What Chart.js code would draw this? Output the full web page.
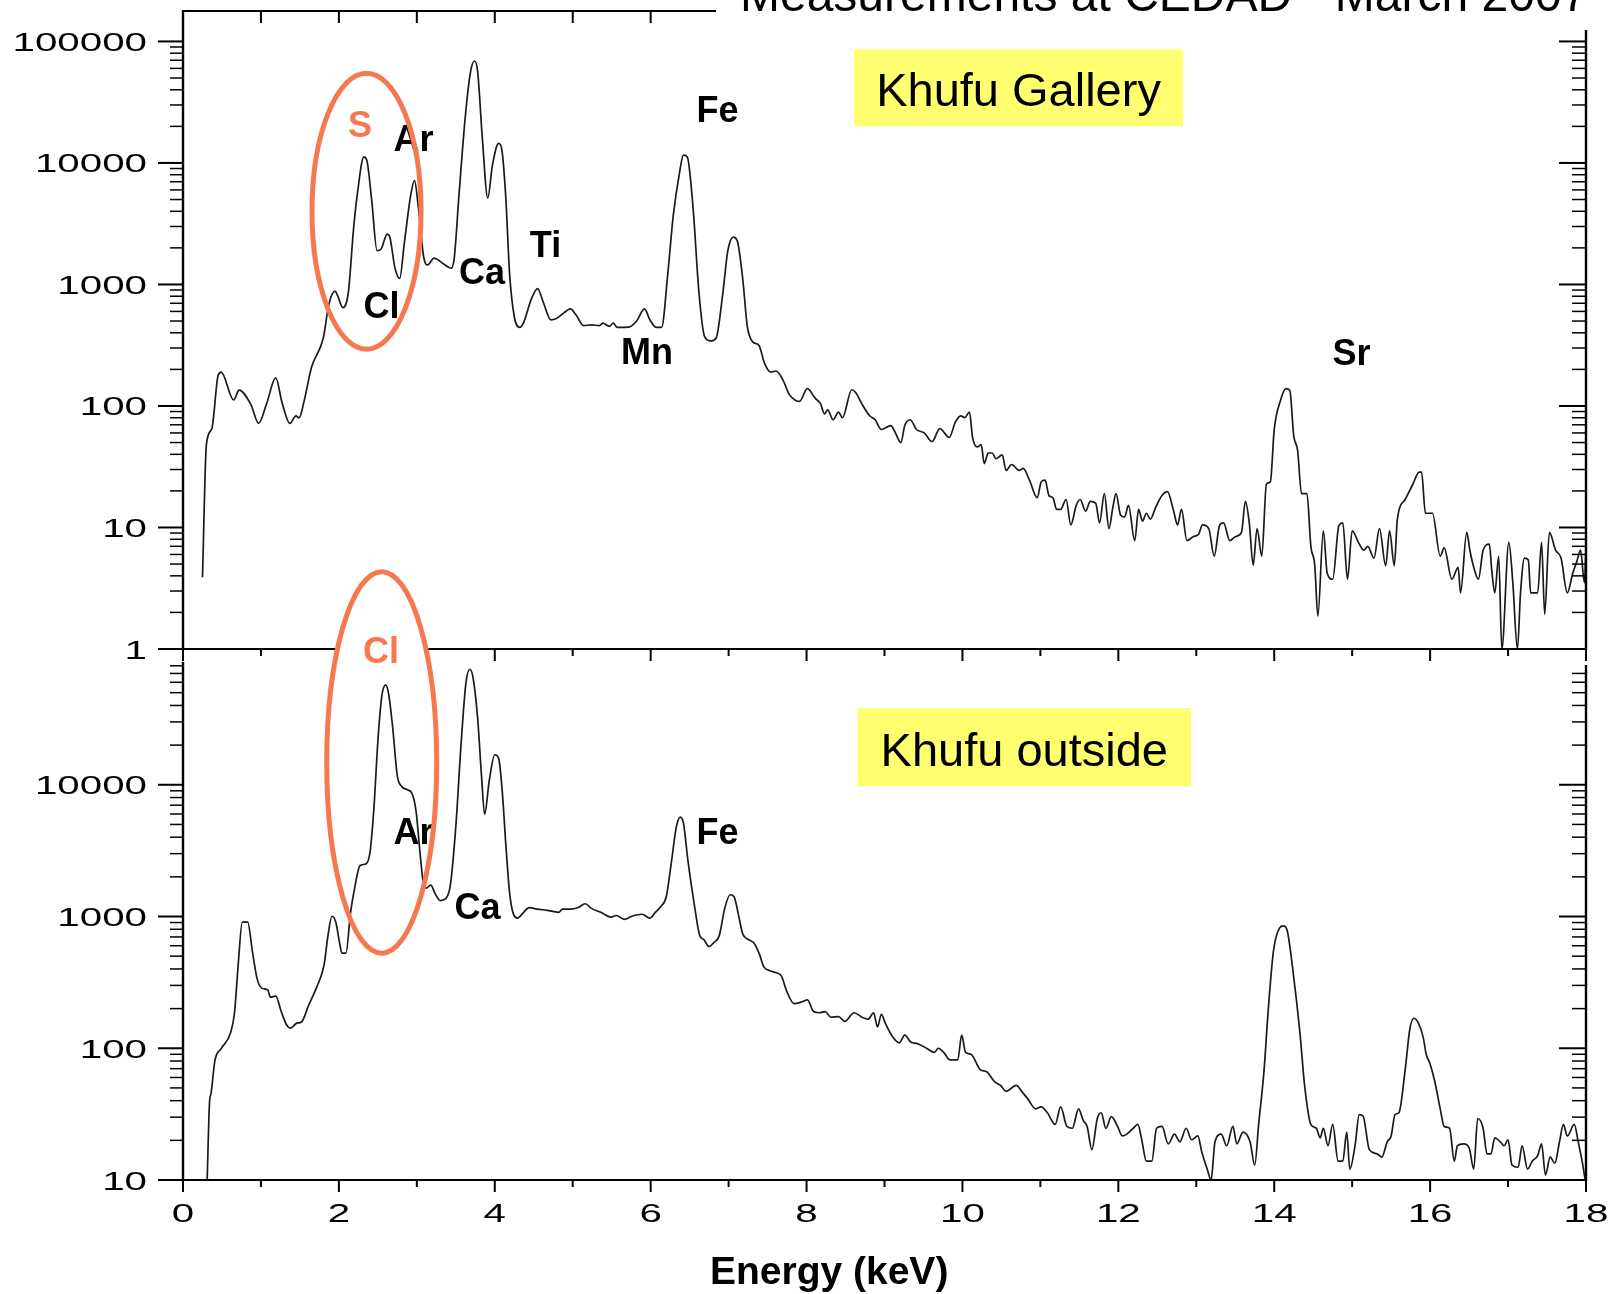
<!DOCTYPE html>
<html>
<head>
<meta charset="utf-8">
<title>Khufu XRF spectra</title>
<script src="https://cdn.jsdelivr.net/npm/chart.js@4.4.1/dist/chart.umd.min.js"></script>
<style>
  html, body { margin: 0; padding: 0; background: #fff; }
  #wrap { position: relative; width: 1615px; height: 1294px; overflow: hidden; background: #fff; }
  #wrap canvas { position: absolute; left: 0; top: 0; }
</style>
</head>
<body>
<div id="wrap">
  <canvas id="gallery" width="1615" height="1294"></canvas>
  <canvas id="outside" width="1615" height="1294"></canvas>
</div>
<script>
// ---- Spectrum taken inside the Khufu gallery (energy in keV, counts per channel) ----
const galleryEnergy = [
  0.25, 0.30, 0.37, 0.45, 0.49, 0.65, 0.72, 0.87, 0.97, 1.07, 1.19, 1.27, 1.37, 1.45, 1.49, 1.55,
  1.65, 1.80, 1.87, 1.95, 1.98, 2.05, 2.12, 2.19, 2.24, 2.32, 2.36, 2.42, 2.49, 2.54, 2.62, 2.65,
  2.72, 2.78, 2.84, 2.92, 2.97, 3.02, 3.09, 3.14, 3.22, 3.34, 3.44, 3.48, 3.54, 3.62, 3.69, 3.74,
  3.78, 3.84, 3.91, 3.97, 4.05, 4.09, 4.14, 4.19, 4.25, 4.32, 4.37, 4.47, 4.55, 4.62, 4.72, 4.79,
  4.89, 4.97, 5.04, 5.14, 5.24, 5.34, 5.39, 5.47, 5.52, 5.57, 5.72, 5.82, 5.92, 5.99, 6.07, 6.14,
  6.22, 6.29, 6.37, 6.42, 6.47, 6.54, 6.62, 6.69, 6.77, 6.84, 6.92, 6.99, 7.06, 7.11, 7.18, 7.24,
  7.31, 7.39, 7.46, 7.54, 7.61, 7.69, 7.78, 7.86, 7.91, 8.01, 8.11, 8.18, 8.23, 8.27, 8.34, 8.41,
  8.46, 8.58, 8.63, 8.71, 8.81, 8.88, 8.96, 9.03, 9.08, 9.13, 9.21, 9.26, 9.33, 9.41, 9.51, 9.61,
  9.71, 9.83, 9.91, 9.98, 10.03, 10.09, 10.13, 10.19, 10.24, 10.28, 10.33, 10.38, 10.43, 10.51, 10.56, 10.63,
  10.73, 10.78, 10.86, 10.96, 11.01, 11.06, 11.11, 11.16, 11.21, 11.26, 11.33, 11.39, 11.46, 11.51, 11.58, 11.64,
  11.71, 11.76, 11.82, 11.88, 11.93, 11.97, 12.03, 12.08, 12.13, 12.21, 12.26, 12.31, 12.36, 12.41, 12.48, 12.56,
  12.63, 12.71, 12.76, 12.81, 12.88, 12.96, 13.03, 13.08, 13.16, 13.23, 13.30, 13.35, 13.43, 13.50, 13.58, 13.63,
  13.68, 13.73, 13.78, 13.84, 13.90, 13.95, 14.00, 14.08, 14.15, 14.20, 14.25, 14.30, 14.35, 14.42, 14.47, 14.52,
  14.56, 14.63, 14.68, 14.75, 14.83, 14.88, 14.94, 15.00, 15.08, 15.15, 15.20, 15.28, 15.35, 15.43, 15.48, 15.54,
  15.58, 15.68, 15.78, 15.86, 15.89, 15.94, 16.03, 16.13, 16.18, 16.28, 16.36, 16.39, 16.47, 16.51, 16.56, 16.62,
  16.68, 16.76, 16.79, 16.83, 16.88, 16.92, 17.01, 17.06, 17.12, 17.16, 17.21, 17.26, 17.29, 17.38, 17.43, 17.47,
  17.53, 17.61, 17.68, 17.76, 17.83, 17.88, 17.93, 17.98, 18.00
];
const galleryCounts = [
  3.9, 48, 65, 178, 190, 112, 135, 103, 72, 103, 170, 107, 72, 83, 80, 107,
  209, 363, 680, 880, 820, 645, 850, 2960, 5750, 11200, 10400, 5000, 1900, 1950, 2600, 2500,
  1360, 1120, 2200, 5350, 7200, 4300, 1650, 1450, 1650, 1480, 1360, 1650, 5350, 23400, 56600, 69000,
  56600, 16100, 5150, 9600, 14500, 12900, 5350, 1230, 545, 444, 486, 760, 925, 720, 512, 525,
  586, 630, 565, 458, 465, 458, 480, 452, 480, 444, 446, 500, 630, 512, 444, 444,
  1230, 3700, 8300, 11600, 11200, 4600, 850, 376, 343, 363, 785, 1900, 2450, 2300, 1130, 452,
  337, 315, 225, 190, 194, 167, 124, 111, 109, 139, 116, 104, 86, 93, 77, 89,
  80, 136, 129, 104, 83, 77, 64, 67, 69, 62, 50, 69, 77, 64, 60, 51,
  65, 55, 74, 83, 80, 89, 55, 46, 48, 33.5, 41, 41, 36.8, 39.6, 29.5, 33,
  29.5, 30.6, 24.5, 17.6, 23.7, 24.5, 18.3, 17.6, 14.1, 14.1, 17, 10.5, 15.2, 17, 13.6, 16.4,
  15.8, 10.9, 19, 9.8, 14.7, 19, 12.6, 12.2, 15.2, 7.8, 14.1, 11.3, 13.1, 11.7, 14.7, 18.3,
  19.7, 13.6, 10.5, 14.1, 7.8, 8.4, 8.8, 10.5, 9.8, 5.8, 10.5, 10.9, 7.8, 8.4, 9.1, 16.4,
  10.9, 4.9, 9.8, 5.8, 22.8, 23.7, 64, 111, 139, 134, 57, 43, 19, 19, 7, 4.9,
  1.86, 9.4, 4.2, 3.75, 10.4, 10.9, 3.75, 9.4, 7.55, 6.5, 7.0, 5.6, 9.8, 4.85, 9.4, 4.85,
  11.7, 17, 22.8, 28.5, 28.5, 13.1, 13.1, 5.8, 6.8, 3.75, 4.7, 2.9, 9.1, 6.5, 4.7, 3.75,
  6.5, 7.3, 4.5, 2.9, 5.8, 1, 7.55, 3.6, 1, 2.9, 5.6, 5.4, 2.9, 2.9, 7.55, 1.93,
  9.1, 6.5, 5.6, 2.9, 4.2, 5.2, 6.5, 3.5, 7
];

// ---- Spectrum taken outside the pyramid ----
const outsideEnergy = [
  0.31, 0.34, 0.36, 0.41, 0.49, 0.61, 0.66, 0.71, 0.76, 0.83, 0.89, 0.95, 1.01, 1.09, 1.12, 1.19,
  1.26, 1.33, 1.38, 1.46, 1.52, 1.61, 1.71, 1.81, 1.86, 1.91, 1.96, 2.01, 2.04, 2.09, 2.15, 2.20,
  2.27, 2.35, 2.40, 2.45, 2.50, 2.55, 2.60, 2.64, 2.69, 2.75, 2.80, 2.88, 2.94, 2.99, 3.04, 3.08,
  3.12, 3.18, 3.23, 3.30, 3.37, 3.43, 3.50, 3.57, 3.63, 3.68, 3.72, 3.78, 3.83, 3.87, 3.93, 4.00,
  4.05, 4.10, 4.14, 4.19, 4.24, 4.29, 4.37, 4.44, 4.54, 4.67, 4.82, 4.87, 4.97, 5.07, 5.16, 5.24,
  5.36, 5.49, 5.56, 5.66, 5.76, 5.89, 5.99, 6.06, 6.13, 6.20, 6.26, 6.33, 6.38, 6.42, 6.48, 6.56,
  6.63, 6.68, 6.75, 6.81, 6.88, 6.95, 7.02, 7.07, 7.13, 7.18, 7.25, 7.33, 7.40, 7.45, 7.53, 7.60,
  7.68, 7.74, 7.84, 7.94, 8.01, 8.09, 8.16, 8.24, 8.31, 8.41, 8.49, 8.61, 8.71, 8.79, 8.86, 8.91,
  8.96, 9.01, 9.09, 9.19, 9.26, 9.34, 9.41, 9.54, 9.64, 9.69, 9.76, 9.84, 9.94, 9.99, 10.04, 10.11,
  10.23, 10.31, 10.41, 10.49, 10.56, 10.69, 10.76, 10.84, 10.94, 11.01, 11.09, 11.19, 11.26, 11.34, 11.41, 11.49,
  11.55, 11.60, 11.66, 11.73, 11.78, 11.84, 11.91, 11.99, 12.05, 12.11, 12.19, 12.25, 12.30, 12.36, 12.43, 12.49,
  12.56, 12.64, 12.72, 12.79, 12.87, 12.94, 13.02, 13.07, 13.14, 13.19, 13.24, 13.32, 13.39, 13.47, 13.52, 13.60,
  13.69, 13.75, 13.80, 13.87, 13.92, 13.99, 14.07, 14.12, 14.17, 14.24, 14.33, 14.39, 14.47, 14.54, 14.59, 14.63,
  14.69, 14.75, 14.82, 14.88, 14.93, 14.97, 15.04, 15.09, 15.14, 15.22, 15.32, 15.38, 15.45, 15.50, 15.55, 15.60,
  15.68, 15.74, 15.79, 15.85, 15.91, 15.95, 16.00, 16.06, 16.13, 16.18, 16.25, 16.31, 16.35, 16.43, 16.50, 16.56,
  16.61, 16.68, 16.73, 16.78, 16.83, 16.90, 16.95, 17.00, 17.05, 17.13, 17.18, 17.25, 17.31, 17.38, 17.43, 17.48,
  17.54, 17.60, 17.66, 17.71, 17.76, 17.85, 17.90, 17.95, 17.99
];
const outsideCounts = [
  10, 38.5, 45.6, 81, 99.5, 131, 184, 445, 908, 908, 546, 339, 286, 276, 244, 249,
  190, 150, 142, 155, 158, 211, 286, 430, 716, 1005, 908, 625, 527, 527, 1076, 1620,
  2430, 2515, 3090, 6750, 21400, 46900, 57400, 48400, 27200, 11620, 9800, 9160, 8550, 6300, 3090, 1855,
  1640, 1733, 1513, 1321, 1365, 1733, 4810, 21400, 59400, 75300, 65700, 32200, 11620, 5970, 10850, 16900,
  15800, 8280, 3660, 1513, 1040, 972, 1076, 1170, 1138, 1115, 1076, 1138, 1138, 1170, 1250, 1153,
  1076, 990, 1018, 952, 1005, 1040, 972, 1076, 1190, 1413, 2430, 4810, 5690, 5140, 2600, 1233,
  716, 670, 592, 634, 716, 1153, 1463, 1413, 1005, 741, 670, 625, 509, 416, 388, 376,
  351, 276, 218, 225, 233, 190, 186, 190, 172, 174, 160, 186, 172, 166, 186, 145,
  181, 155, 126, 110, 126, 111, 109, 100, 93, 100, 93, 81.5, 81.5, 126, 93, 90,
  68.6, 66.3, 55.9, 52.2, 47.1, 52.2, 47.1, 41.1, 34.7, 35.9, 32.4, 26.4, 35.9, 25.5, 24.7, 34.7,
  28.3, 25.5, 17, 29.3, 32.4, 24.7, 30.3, 25.5, 21.6, 22.3, 24.7, 26.4, 20.2, 13.9, 13.9, 24.7,
  25.5, 18.8, 22.3, 19.5, 24.7, 20.2, 21.6, 16.4, 12.1, 10, 19.5, 22.3, 18.2, 25.5, 18.8, 23.1,
  19.5, 13, 26.4, 68.6, 184, 546, 820, 849, 767, 389, 131, 52, 26.4, 24.7, 20.9, 24.7,
  18.2, 26.4, 13.9, 13.9, 23.1, 12.1, 18.8, 31.4, 30.6, 17, 15.8, 14.9, 19.5, 21.6, 31.4, 32.4,
  68.6, 140, 169, 155, 122, 90, 75.9, 55.9, 34.7, 25.5, 24.7, 13.9, 18.2, 18.8, 17.6, 12.1,
  29.3, 24.7, 15.8, 15.8, 20.9, 19.5, 18.2, 20.2, 13, 12.5, 18.2, 12.1, 13.9, 15.3, 18.8, 10.9,
  14.9, 13.4, 19.5, 26.4, 21.6, 26.4, 19.5, 13.9, 10
];

// ---- Axis ranges and labelled ticks ----
const energyRange = [0, 18];
const energyTickLabels = [0, 2, 4, 6, 8, 10, 12, 14, 16, 18];
const galleryCountRange = [1, 178000];
const galleryCountTicks = [1, 10, 100, 1000, 10000, 100000];
const outsideCountRange = [10, 84000];
const outsideCountTicks = [10, 100, 1000, 10000];

// ---- Element labels, placed in (keV, counts) space; counts give the text baseline ----
const galleryPeakLabels = [
  { text: 'S',  keV: 2.271, counts: 16270, accent: true },
  { text: 'Ar', keV: 2.957, counts: 12485 },
  { text: 'Cl', keV: 2.548, counts: 527 },
  { text: 'Ca', keV: 3.836, counts: 1006 },
  { text: 'Ti', keV: 4.651, counts: 1684 },
  { text: 'Mn', keV: 5.953, counts: 222 },
  { text: 'Fe', keV: 6.858, counts: 21750 },
  { text: 'Sr', keV: 14.992, counts: 216 }
];
const outsidePeakLabels = [
  { text: 'Cl', keV: 2.541, counts: 84000, accent: true },
  { text: 'Ar', keV: 2.957, counts: 3555 },
  { text: 'Ca', keV: 3.778, counts: 959 },
  { text: 'Fe', keV: 6.858, counts: 3555 }
];

const ACCENT = '#F5784F';
const SANS = '"Liberation Sans", Arial, Helvetica, sans-serif';

// Writes text squeezed or widened horizontally (the scale labels use a wide face).
function stretchedText(ctx, text, x, y, align, sx) {
  ctx.save();
  ctx.translate(x, y);
  ctx.scale(sx, 1);
  ctx.textAlign = align;
  ctx.textBaseline = 'alphabetic';
  ctx.fillText(text, 0, 0);
  ctx.restore();
}

// Axis frame: spines, log ticks on both sides, keV ticks, and scale labels.
const framePlugin = {
  id: 'frame',
  afterDatasetsDraw(chart, args, o) {
    const { ctx, chartArea: a, scales: { x, y } } = chart;
    const seg = (x1, y1, x2, y2, w) => {
      ctx.lineWidth = w;
      ctx.beginPath();
      ctx.moveTo(x1, y1);
      ctx.lineTo(x2, y2);
      ctx.stroke();
    };
    ctx.save();
    ctx.strokeStyle = '#000';
    ctx.fillStyle = '#000';
    ctx.lineCap = 'butt';

    // spines
    seg(a.left, a.top - 1, a.left, a.bottom + 1, 2.4);
    seg(a.right, a.top + o.rightInset, a.right, a.bottom + 1, 2.4);
    seg(a.left - o.leftMajor, a.bottom, a.right + 1, a.bottom, 2.2);
    if (o.topBorderTo != null) {
      const xe = x.getPixelForValue(o.topBorderTo);
      seg(a.left - 1, a.top, xe, a.top, 2.2);
      for (let k = 1; k <= Math.floor(o.topBorderTo); k++) {
        const px = x.getPixelForValue(k);
        seg(px, a.top, px, a.top + 12, 2);
      }
    }

    // logarithmic ticks, outward on the left spine, inward on the right one
    const lo = Math.floor(Math.log10(y.min));
    const hi = Math.ceil(Math.log10(y.max));
    for (let d = lo; d <= hi; d++) {
      for (let m = 1; m < 10; m++) {
        const v = m * Math.pow(10, d);
        if (v < y.min * 0.999 || v > y.max) continue;
        const py = y.getPixelForValue(v);
        const major = m === 1;
        const w = major ? 2 : 1.5;
        seg(a.left - (major ? o.leftMajor : o.leftMinor), py, a.left, py, w);
        if (py >= a.top + o.rightInset + 1) {
          seg(a.right - (major ? o.rightMajor : o.rightMinor), py, a.right, py, w);
        }
      }
    }

    // energy ticks, pointing down from the lower spine
    for (let k = Math.ceil(x.min); k <= x.max; k++) {
      const px = x.getPixelForValue(k);
      seg(px, a.bottom, px, a.bottom + (k % 2 === 0 ? 12 : 7), 2);
    }

    // scale labels
    ctx.font = o.labelFont;
    for (const v of o.countLabels) {
      const py = y.getPixelForValue(v);
      stretchedText(ctx, String(v), o.countLabelRight, py + 9.5, 'right', o.labelStretch);
    }
    if (o.energyLabels) {
      for (const v of o.energyLabels) {
        stretchedText(ctx, String(v), x.getPixelForValue(v), a.bottom + 42, 'center', o.labelStretch);
      }
    }
    ctx.restore();
  }
};

// Annotations: sample boxes, element names, highlight ellipses, headline and axis title.
const decorPlugin = {
  id: 'decor',
  afterDraw(chart, args, o) {
    const { ctx, chartArea: a, scales: { x, y } } = chart;
    const X = v => x.getPixelForValue(v);
    const Y = v => y.getPixelForValue(v);
    ctx.save();

    if (o.headline) {
      ctx.fillStyle = '#000';
      ctx.font = '48px ' + SANS;
      ctx.textAlign = 'left';
      ctx.textBaseline = 'alphabetic';
      ctx.fillText(o.headline.text, X(o.headline.keV), a.top + o.headline.dy);
    }

    if (o.box) {
      const b = o.box;
      const x0 = X(b.keV[0]), x1 = X(b.keV[1]);
      const y0 = Y(b.counts[1]), y1 = Y(b.counts[0]);
      ctx.fillStyle = '#FFFF70';
      ctx.fillRect(x0, y0, x1 - x0, y1 - y0);
      ctx.fillStyle = '#000';
      ctx.font = '47px ' + SANS;
      ctx.textAlign = 'center';
      ctx.textBaseline = 'alphabetic';
      ctx.fillText(b.text, (x0 + x1) / 2, Y(b.baseline));
    }

    const ellipsePath = e => {
      const x0 = X(e.keV[0]), x1 = X(e.keV[1]);
      const yt = Y(e.counts[1]), yb = Y(e.counts[0]);
      ctx.beginPath();
      ctx.ellipse((x0 + x1) / 2, (yt + yb) / 2, (x1 - x0) / 2, (yb - yt) / 2, 0, 0, Math.PI * 2);
    };

    // the part of an ellipse reaching above this panel is blanked out
    for (const e of o.ellipses) {
      if (!e.maskAbove) continue;
      ctx.save();
      ctx.beginPath();
      ctx.rect(0, 0, chart.width, a.top);
      ctx.clip();
      ellipsePath(e);
      ctx.fillStyle = '#fff';
      ctx.fill();
      ctx.restore();
    }

    ctx.font = 'bold 36px ' + SANS;
    ctx.textAlign = 'center';
    ctx.textBaseline = 'alphabetic';
    for (const l of o.labels) {
      ctx.fillStyle = l.accent ? ACCENT : '#000';
      ctx.fillText(l.text, X(l.keV), Y(l.counts));
    }

    ctx.strokeStyle = ACCENT;
    ctx.lineWidth = 5;
    for (const e of o.ellipses) {
      ellipsePath(e);
      ctx.stroke();
    }

    if (o.axisTitle) {
      ctx.fillStyle = '#000';
      ctx.font = 'bold 39px ' + SANS;
      ctx.textAlign = 'center';
      ctx.fillText(o.axisTitle.text, X(o.axisTitle.keV), a.bottom + o.axisTitle.dy);
    }
    ctx.restore();
  }
};

function spectrumPanel(canvasId, energy, counts, countRange, padding, frame, decor) {
  return new Chart(document.getElementById(canvasId), {
    type: 'line',
    data: {
      datasets: [{
        data: energy.map((e, i) => ({ x: e, y: counts[i] })),
        borderColor: '#1a1a1a',
        borderWidth: 1.7,
        pointRadius: 0,
        cubicInterpolationMode: 'monotone',
        fill: false
      }]
    },
    options: {
      responsive: false,
      animation: false,
      events: [],
      layout: { padding },
      scales: {
        x: { type: 'linear', min: energyRange[0], max: energyRange[1], display: false },
        y: { type: 'logarithmic', min: countRange[0], max: countRange[1], display: false }
      },
      plugins: {
        legend: { display: false },
        tooltip: { enabled: false },
        frame,
        decor
      }
    },
    plugins: [framePlugin, decorPlugin]
  });
}

const labelStyle = { labelFont: '26px ' + SANS, labelStretch: 1.55, countLabelRight: 147 };

spectrumPanel('gallery', galleryEnergy, galleryCounts, galleryCountRange,
  { left: 183, right: 29, top: 11, bottom: 645 },
  Object.assign({
    countLabels: galleryCountTicks, energyLabels: null,
    leftMajor: 25, leftMinor: 13, rightMajor: 27, rightMinor: 14,
    rightInset: 19, topBorderTo: 6.84
  }, labelStyle),
  {
    headline: { text: 'Measurements at CEDAD - March 2007', keV: 7.146, dy: 0 },
    box: { text: 'Khufu Gallery', keV: [8.609, 12.830], counts: [20040, 86250], baseline: 29290 },
    labels: galleryPeakLabels,
    ellipses: [{ keV: [1.655, 3.054], counts: [292.9, 54720] }]
  });

spectrumPanel('outside', outsideEnergy, outsideCounts, outsideCountRange,
  { left: 183, right: 29, top: 663, bottom: 114 },
  Object.assign({
    countLabels: outsideCountTicks, energyLabels: energyTickLabels,
    leftMajor: 25, leftMinor: 13, rightMajor: 27, rightMinor: 14,
    rightInset: 2, topBorderTo: null
  }, labelStyle),
  {
    box: { text: 'Khufu outside', keV: [8.654, 12.933], counts: [9793, 38240], baseline: 13770 },
    labels: outsidePeakLabels,
    ellipses: [{ keV: [1.844, 3.255], counts: [526.6, 414600], maskAbove: true }],
    axisTitle: { text: 'Energy (keV)', keV: 8.29, dy: 104 }
  });
</script>
</body>
</html>
